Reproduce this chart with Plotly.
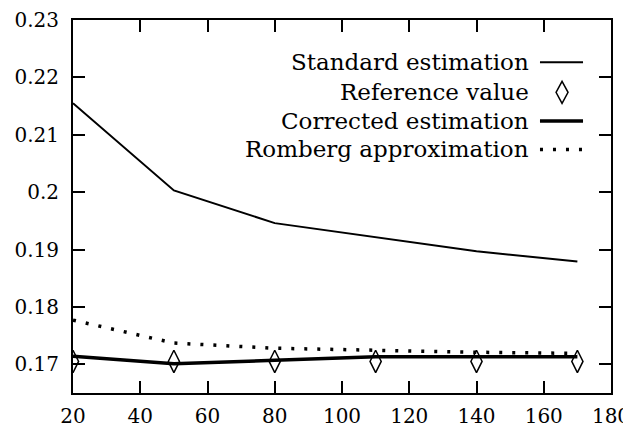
import plotly.graph_objects as go

# sample sizes
n_values = [20, 50, 80, 110, 140, 170]

standard_est = [0.2155, 0.2003, 0.1946, 0.1922, 0.1897, 0.1879]
reference_val = [0.1705, 0.1705, 0.1705, 0.1705, 0.1705, 0.1705]
corrected_est = [0.1714, 0.1701, 0.1707, 0.1713, 0.1713, 0.1713]
romberg_approx = [0.1777, 0.1737, 0.1728, 0.1724, 0.1721, 0.1719]

legend_names = ["Standard estimation", "Reference value",
                "Corrected estimation", "Romberg approximation"]

FONT = "DejaVu Serif"

fig = go.Figure()

fig.add_trace(go.Scatter(x=n_values, y=standard_est, mode='lines',
                         line=dict(color='black', width=2), name=legend_names[0]))
fig.add_trace(go.Scatter(x=n_values, y=reference_val, mode='markers',
                         marker=dict(symbol='diamond-tall-open', size=16, color='black',
                                     line=dict(width=1.5, color='black')),
                         name=legend_names[1]))
fig.add_trace(go.Scatter(x=n_values, y=corrected_est, mode='lines',
                         line=dict(color='black', width=3.5), name=legend_names[2]))
fig.add_trace(go.Scatter(x=n_values, y=romberg_approx, mode='lines',
                         line=dict(color='black', width=3.5, dash='3px,10px'),
                         name=legend_names[3]))

# hand made legend: text right aligned, key on the right
rows = [0.887, 0.806, 0.729, 0.653]
for name, yy in zip(legend_names, rows):
    fig.add_annotation(x=0.851, y=yy, xref='paper', yref='paper', text=name,
                       showarrow=False, xanchor='right', yanchor='middle',
                       font=dict(family=FONT, size=23, color='black'))

fig.add_shape(type='line', xref='paper', yref='paper', x0=0.868, x1=0.948,
              y0=rows[0], y1=rows[0], line=dict(color='black', width=2))
fig.add_shape(type='path', xref='paper', yref='paper', xsizemode='pixel', ysizemode='pixel',
              xanchor=0.909, yanchor=rows[1], path='M -6 0 L 0 11 L 6 0 L 0 -11 Z',
              line=dict(color='black', width=1.5))
fig.add_shape(type='line', xref='paper', yref='paper', x0=0.868, x1=0.948,
              y0=rows[2], y1=rows[2], line=dict(color='black', width=3.5))
fig.add_shape(type='line', xref='paper', yref='paper', x0=0.868, x1=0.948,
              y0=rows[3], y1=rows[3], line=dict(color='black', width=3.5, dash='3px,10px'))

axis_style = dict(showline=True, linecolor='black', linewidth=2, mirror='ticks',
                  ticks='inside', ticklen=12, tickwidth=2, tickcolor='black',
                  showgrid=False, zeroline=False, automargin=False,
                  ticklabeloverflow='allow',
                  tickfont=dict(family=FONT, size=20, color='black'))

fig.update_xaxes(range=[20, 180], tickvals=[20, 40, 60, 80, 100, 120, 140, 160, 180],
                 ticklabelstandoff=4, **axis_style)
fig.update_yaxes(range=[0.165, 0.23],
                 tickvals=[0.17, 0.18, 0.19, 0.2, 0.21, 0.22, 0.23],
                 ticktext=['0.17', '0.18', '0.19', '0.2', '0.21', '0.22', '0.23'],
                 ticklabelstandoff=8, **axis_style)

# page body has an 8px margin, so the figure is shrunk by that much
fig.update_layout(width=623, height=425, showlegend=False,
                  margin=dict(l=65, r=20, t=12, b=40),
                  font=dict(family=FONT),
                  paper_bgcolor='white', plot_bgcolor='white')

fig.write_html("out.html")
